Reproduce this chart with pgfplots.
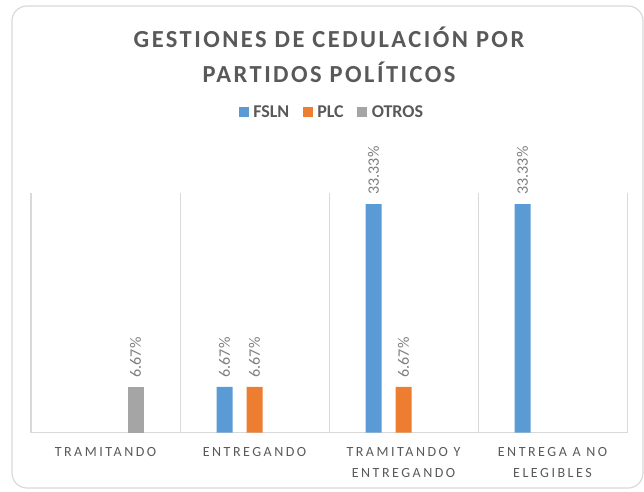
\documentclass[border=0pt]{standalone}
\usepackage{fontspec}
\setmainfont{Carlito}
\usepackage{pgfplots}
\pgfplotsset{compat=1.18}
\definecolor{cblue}{HTML}{5B9BD5}
\definecolor{corange}{HTML}{ED7D31}
\definecolor{cgrey}{HTML}{A5A5A5}
\definecolor{ctext}{HTML}{595959}
\definecolor{clabel}{HTML}{7F7F7F}
\definecolor{cline}{HTML}{D9D9D9}
\begin{document}
\begin{tikzpicture}
\useasboundingbox (-31pt,-58.3pt) rectangle (613pt,432.7pt);
\draw[cline, line width=1.2pt, rounded corners=15pt] (-19pt,-55.3pt) rectangle (612pt,426.7pt);
\begin{axis}[
  scale only axis, width=596pt, height=240pt,
  at={(0,0)}, anchor=south west,
  ymin=0, ymax=35, xmin=-0.5, xmax=3.5, enlargelimits=false,
  ybar=14pt, bar width=16pt,
  axis y line=none, axis x line*=bottom,
  x axis line style={cline, line width=1pt, -},
  ytick=\empty,
  xtick={0,1,2,3},
  xticklabels={TRAMITANDO, ENTREGANDO, {TRAMITANDO Y\\ENTREGANDO}, {ENTREGA A NO\\ELEGIBLES}},
  major tick length=0pt,
  minor xtick={-0.5,0.5,1.5,2.5,3.5},
  xminorgrids=true, minor tick length=0pt,
  minor grid style={cline, line width=1pt},
  xticklabel style={font=\fontsize{14}{21}\selectfont\addfontfeature{LetterSpace=18}, text=ctext, align=center, inner sep=0pt, anchor=north, yshift=-15pt},
  title={GESTIONES DE CEDULACIÓN POR\\PARTIDOS POLÍTICOS},
  title style={at={(0.5,1.432)}, anchor=south, inner sep=0pt, align=center, font=\fontsize{24.5}{35}\selectfont\bfseries\addfontfeature{LetterSpace=10}, text=ctext},
  legend columns=3,
  legend style={at={(0.507,1.336)}, anchor=center, draw=none, fill=none, font=\fontsize{18}{20}\selectfont\bfseries, text=ctext, nodes={inner xsep=4.5pt}, /tikz/every even column/.append style={column sep=9pt}},
  legend image code/.code={\fill[#1] (0pt,-5pt) rectangle (10pt,5pt);},
  nodes near coords={\pgfmathprintnumber[fixed,fixed zerofill,precision=2,assume math mode=true]{\pgfplotspointmeta}\%},
  every node near coord/.append style={rotate=90, anchor=west, inner xsep=9.5pt, inner ysep=0pt, text=clabel, font=\fontsize{16}{18}\selectfont},
]
\addplot[fill=cblue, draw=none] coordinates {(1,6.67) (2,33.33) (3,33.33)};
\addplot[fill=corange, draw=none] coordinates {(1,6.67) (2,6.67)};
\addplot[fill=cgrey, draw=none] coordinates {(0,6.67)};
\legend{FSLN, PLC, OTROS}
\end{axis}
\end{tikzpicture}
\end{document}
